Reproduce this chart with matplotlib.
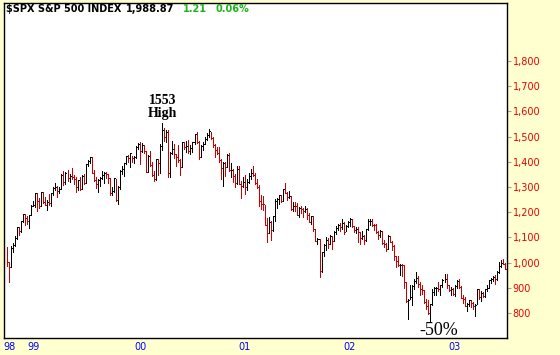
import numpy as np
import matplotlib.pyplot as plt
from matplotlib.ticker import FuncFormatter

# weekly S&P 500 bars, week ending 1998-10-02 .. 2003-06-27
prev_close = 1044.1
closes = [
    1002.6, 984.4, 1056.4, 1070.7, 1098.7, 1141.0, 1125.7, 1163.6, 1192.3, 1176.7,
    1166.5, 1188.0, 1226.3, 1229.2,
    1275.1, 1243.3, 1225.2, 1279.6, 1239.4, 1230.1, 1239.2, 1238.3, 1275.5, 1294.6,
    1299.3, 1282.8, 1293.7, 1348.4, 1319.0, 1356.9, 1335.2, 1345.0, 1337.8, 1330.3,
    1301.8, 1327.8, 1293.6, 1342.8, 1315.3, 1391.2, 1403.3, 1418.8, 1356.9, 1328.7,
    1313.7, 1327.7, 1336.6, 1348.3, 1357.2, 1351.7, 1335.4, 1277.4, 1282.8, 1336.0,
    1247.4, 1301.6, 1362.9, 1370.2, 1396.1, 1422.0, 1416.6, 1433.3, 1417.0, 1421.0,
    1458.3, 1469.3,
    1441.5, 1465.2, 1441.4, 1360.2, 1424.4, 1387.1, 1346.1, 1333.4, 1409.2, 1395.1,
    1464.5, 1527.5, 1498.6, 1516.4, 1356.6, 1434.5, 1452.4, 1432.6, 1420.9, 1406.9,
    1378.0, 1477.3, 1456.9, 1464.5, 1441.5, 1454.6, 1478.9, 1509.9, 1480.2, 1419.9,
    1462.9, 1471.8, 1491.7, 1506.5, 1520.8, 1494.5, 1465.8, 1448.7, 1436.5, 1408.9,
    1374.2, 1396.9, 1379.6, 1426.7, 1366.0, 1367.7, 1341.8, 1315.2, 1369.9, 1312.2,
    1305.9, 1320.3,
    1298.4, 1318.6, 1342.5, 1354.9, 1349.5, 1314.8, 1301.5, 1245.9, 1234.2, 1233.4,
    1150.5, 1117.6, 1160.3, 1128.4, 1183.5, 1243.0, 1253.1, 1266.6, 1245.7, 1292.0,
    1277.9, 1260.7, 1265.0, 1214.4, 1225.4, 1224.4, 1190.6, 1215.7, 1210.9, 1205.8,
    1214.4, 1190.2, 1162.0, 1184.9, 1133.6, 1085.8, 1092.5, 965.8, 1040.9, 1071.4,
    1091.7, 1073.5, 1104.6, 1087.2, 1120.3, 1138.7, 1150.3, 1139.5, 1158.3, 1123.1,
    1144.9, 1161.0,
    1172.5, 1145.6, 1127.6, 1133.3, 1122.2, 1096.2, 1104.2, 1089.8, 1131.8, 1164.3,
    1166.2, 1148.7, 1147.4, 1122.7, 1111.0, 1125.2, 1076.3, 1073.4, 1055.0, 1106.6,
    1083.8, 1067.1, 1027.5, 1007.3, 989.1, 989.8, 989.0, 921.4, 847.8, 852.8,
    864.2, 908.6, 928.8, 940.9, 916.1, 893.9, 889.8, 845.4, 827.4, 800.6,
    835.3, 884.4, 897.7, 901.0, 894.7, 909.8, 930.6, 936.3, 912.2, 889.5,
    895.8, 875.4,
    908.6, 927.6, 901.8, 861.4, 855.7, 829.7, 834.9, 851.2, 841.2, 828.9,
    833.3, 895.8, 863.5, 878.9, 868.3, 893.6, 898.8, 930.1, 933.4, 944.3,
    933.2, 963.6, 987.8, 998.5, 995.7, 976.2,
]
highs = [
    1061, 1002, 1064, 1076, 1104, 1142, 1142, 1164, 1193, 1193,
    1184, 1190, 1228, 1244,
    1278, 1276, 1255, 1280, 1282, 1262, 1247, 1272, 1276, 1299,
    1316, 1305, 1301, 1350, 1362, 1360, 1368, 1350, 1375, 1347,
    1338, 1328, 1338, 1346, 1350, 1393, 1407, 1421, 1419, 1368,
    1340, 1332, 1340, 1363, 1359, 1361, 1353, 1335, 1300, 1337,
    1332, 1303, 1366, 1385, 1397, 1425, 1428, 1436, 1422, 1424,
    1462, 1474,
    1478, 1473, 1466, 1442, 1428, 1441, 1400, 1362, 1410, 1413,
    1470, 1553, 1534, 1527, 1527, 1437, 1483, 1470, 1430, 1468,
    1410, 1478, 1480, 1482, 1486, 1466, 1480, 1511, 1517, 1483,
    1467, 1480, 1500, 1513, 1530, 1520, 1500, 1470, 1460, 1460,
    1412, 1400, 1400, 1432, 1434, 1395, 1370, 1350, 1382, 1385,
    1325, 1340,
    1347, 1333, 1357, 1370, 1383, 1354, 1330, 1307, 1268, 1265,
    1230, 1178, 1182, 1164, 1185, 1253, 1255, 1268, 1270, 1294,
    1316, 1280, 1286, 1265, 1242, 1239, 1236, 1219, 1224, 1215,
    1226, 1217, 1195, 1186, 1185, 1135, 1096, 1092, 1041, 1075,
    1100, 1097, 1110, 1105, 1125, 1145, 1152, 1158, 1173, 1163,
    1150, 1165,
    1176, 1173, 1147, 1140, 1140, 1122, 1124, 1111, 1132, 1173,
    1172, 1173, 1154, 1152, 1125, 1130, 1125, 1091, 1077, 1108,
    1107, 1086, 1068, 1028, 1028, 995, 995, 992, 925, 856,
    912, 912, 935, 962, 946, 925, 912, 892, 855, 850,
    837, 895, 904, 903, 925, 912, 937, 954, 954, 912,
    903, 898,
    911, 932, 935, 906, 870, 864, 838, 852, 853, 842,
    836, 896, 896, 886, 885, 896, 912, 931, 939, 948,
    949, 965, 1003, 1012, 1015, 999,
]
lows = [
    986, 923, 984, 1043, 1065, 1095, 1111, 1120, 1160, 1149,
    1155, 1137, 1188, 1224,
    1220, 1205, 1215, 1225, 1237, 1228, 1208, 1227, 1223, 1270,
    1288, 1260, 1275, 1292, 1307, 1313, 1325, 1320, 1333, 1313,
    1281, 1287, 1290, 1291, 1313, 1315, 1385, 1395, 1355, 1325,
    1297, 1282, 1305, 1330, 1315, 1335, 1315, 1268, 1268, 1282,
    1245, 1233, 1293, 1350, 1343, 1390, 1400, 1380, 1400, 1397,
    1415, 1452,
    1392, 1437, 1435, 1358, 1360, 1385, 1342, 1325, 1329, 1346,
    1356, 1445, 1484, 1478, 1339, 1339, 1430, 1415, 1385, 1400,
    1349, 1378, 1450, 1440, 1436, 1430, 1440, 1470, 1475, 1413,
    1420, 1445, 1470, 1488, 1500, 1490, 1460, 1420, 1430, 1400,
    1330, 1305, 1342, 1380, 1362, 1340, 1320, 1300, 1310, 1310,
    1255, 1300,
    1274, 1287, 1316, 1333, 1345, 1311, 1295, 1224, 1214, 1210,
    1148, 1081, 1118, 1091, 1126, 1165, 1215, 1232, 1240, 1244,
    1275, 1247, 1255, 1210, 1206, 1205, 1188, 1181, 1198, 1182,
    1200, 1175, 1160, 1154, 1124, 1085, 1073, 944, 962, 1026,
    1052, 1060, 1072, 1054, 1085, 1112, 1128, 1125, 1132, 1115,
    1124, 1142,
    1145, 1143, 1123, 1117, 1081, 1074, 1095, 1074, 1086, 1131,
    1151, 1144, 1131, 1119, 1095, 1101, 1075, 1063, 1048, 1055,
    1080, 1050, 1012, 982, 985, 952, 946, 900, 845, 775,
    855, 833, 895, 920, 905, 873, 877, 840, 817, 798,
    768, 832, 870, 872, 887, 872, 905, 925, 900, 887,
    870, 872,
    869, 898, 899, 860, 838, 826, 807, 828, 825, 818,
    789, 834, 856, 847, 862, 865, 886, 898, 918, 927,
    917, 932, 960, 984, 993, 973,
]

year_labels = ['98', '99', '00', '01', '02', '03']
year_pos = [1, 13, 66, 118, 170, 222]
price_ticks = [800, 900, 1000, 1100, 1200, 1300, 1400, 1500, 1600, 1700, 1800]

high_idx = 77
low_idx = 210

bg = '#FFFFD0'
red = '#C80000'

fig = plt.figure(figsize=(5.6, 3.55), dpi=100, facecolor=bg)
ax = fig.add_axes([4 / 560, 17 / 355, 503 / 560, 335 / 355])
ax.set_facecolor('white')

x = np.arange(len(closes))
prior = [prev_close] + closes[:-1]
cols = [red if c < p else 'black' for c, p in zip(closes, prior)]

ax.vlines(x, lows, highs, colors=cols, linewidth=0.55, antialiased=False)
ax.hlines(closes, x, x + 0.5, colors=cols, linewidth=0.55, antialiased=False)

ax.set_xlim(-1.5, 248)
ax.set_ylim(701, 2030)

ax.yaxis.tick_right()
ax.set_yticks(price_ticks)
ax.yaxis.set_major_formatter(FuncFormatter(lambda v, p: f'{v:,.0f}'))
ax.tick_params(axis='y', colors='#A0A0A0', labelcolor='#EE0000',
               length=3, width=0.8, labelsize=7, pad=1)
ax.set_xticks(year_pos)
ax.set_xticklabels(year_labels)
ax.tick_params(axis='x', length=0, labelcolor='#0000FF', labelsize=7, pad=3)
for s in ax.spines.values():
    s.set_color('black')
    s.set_linewidth(1)

# header
ty = 1 - 9 / 355
fig.text(6 / 560, ty, '$SPX S&P 500 INDEX', fontsize=7, fontweight='bold', va='center')
fig.text(126 / 560, ty, '1,988.87', fontsize=7, fontweight='bold', va='center')
fig.text(183 / 560, ty, '1.21', fontsize=7, fontweight='bold', va='center', color='#1DB31D')
fig.text(215 / 560, ty, '0.06%', fontsize=7, fontweight='bold', va='center', color='#1DB31D')

ax.annotate('1553\nHigh', (high_idx, highs[high_idx]), xytext=(0, 3),
            textcoords='offset pixels', ha='center', va='bottom',
            family='Liberation Serif', fontweight='bold', fontsize=10, linespacing=1.05)
ax.annotate('-50%', (low_idx, lows[low_idx]), xytext=(8, -1),
            textcoords='offset pixels', ha='center', va='top',
            family='Liberation Serif', fontsize=13)

fig.savefig('out.png', dpi=100, facecolor=bg)
